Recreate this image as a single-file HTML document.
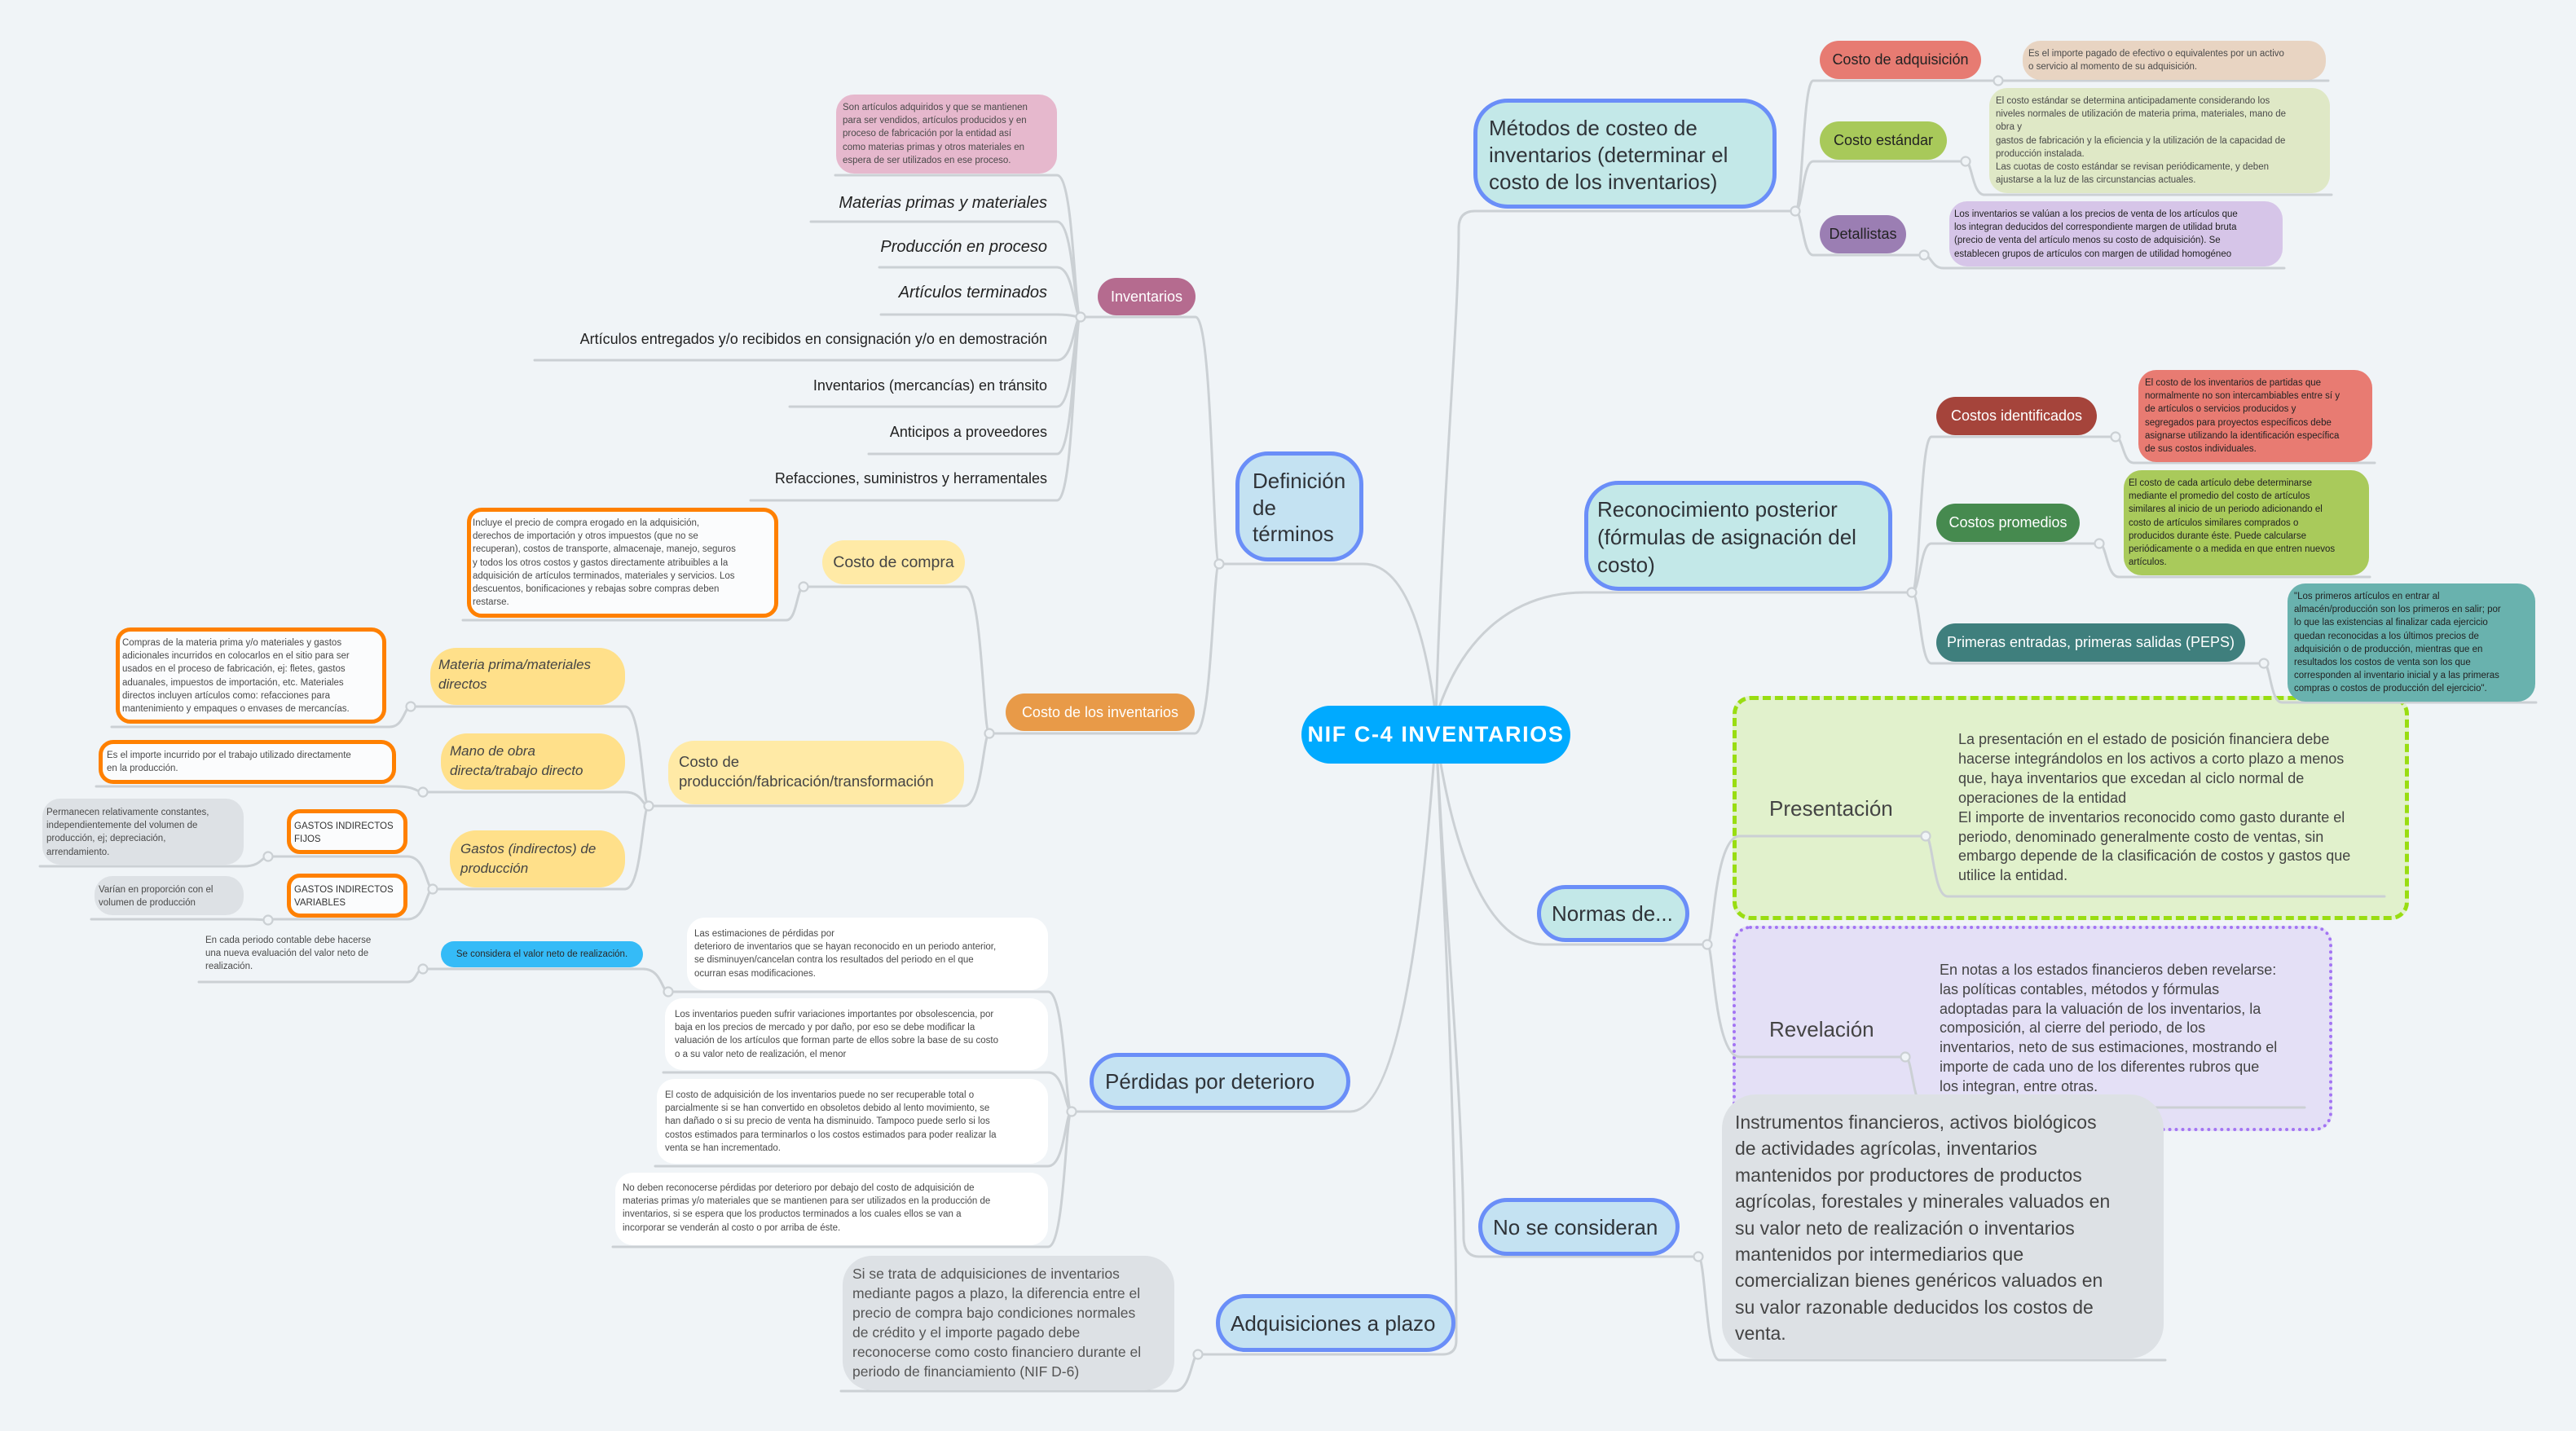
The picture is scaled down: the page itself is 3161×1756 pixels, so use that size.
<!DOCTYPE html>
<html><head><meta charset="utf-8">
<style>
*{box-sizing:border-box;margin:0;padding:0}
html,body{width:3161px;height:1756px;background:#f0f4f7;overflow:hidden}
body{position:relative;font-family:"Liberation Sans",Arial,sans-serif;color:#333}
.a{position:absolute}
.box{position:absolute}
.pill{position:absolute;display:flex;align-items:center;justify-content:center;white-space:nowrap}
.t{position:absolute;white-space:nowrap}
.s{font-size:11.5px;line-height:16.2px;color:#4a4a4a}
.main{position:absolute;border:5px solid #6a8ef8;}
.hw{font-size:26px;color:#2f3338;line-height:33px}
.lst{position:absolute;white-space:nowrap;text-align:right;right:1876px;line-height:24px;color:#222}
svg{position:absolute;left:0;top:0}
</style></head><body>

<!-- boundaries -->
<div class="box" style="left:2126px;top:854px;width:830px;height:275px;background:#e1f1cc;border:5px dashed #99dd11;border-radius:22px"></div>
<div class="box" style="left:2126px;top:1136px;width:736px;height:252px;background:#e4e0f6;border:4px dotted #a374f3;border-radius:22px"></div>

<svg width="3161" height="1756" viewBox="0 0 3161 1756" fill="none" stroke="#cbd0d4" stroke-width="3" stroke-linecap="round">
<!-- main connectors -->
<path d="M1496,692 H1673 C1730,692 1752,800 1762,880"/>
<path d="M1762,880 C1770,600 1790,400 1790,280 Q1790,259 1810,259 H2203"/>
<path d="M1762,880 C1790,790 1850,727 1944,727 H2346"/>
<path d="M1762,900 C1785,1060 1830,1159 1895,1159 H2095"/>
<path d="M1762,900 C1775,1150 1795,1350 1796,1520 Q1797,1542 1815,1542 H2084"/>
<path d="M1470,1662 H1770 Q1787,1662 1787,1645 C1787,1400 1772,1100 1762,900"/>
<path d="M1315,1364 H1657 C1720,1364 1748,1100 1762,900"/>
<!-- definicion -->
<path d="M1326,389 H1467 C1488,389 1488,692 1496,692"/>
<path d="M1214,900 H1466 C1488,900 1488,692 1496,692"/>
<path d="M1025,215 H1297 C1318,215 1318,389 1326,389"/>
<path d="M995,272 H1297 C1318,272 1318,389 1326,389"/>
<path d="M1079,328 H1297 C1318,328 1318,389 1326,389"/>
<path d="M1081,386 H1297 C1318,386 1318,389 1326,389"/>
<path d="M656,442 H1297 C1318,442 1318,389 1326,389"/>
<path d="M969,499 H1297 C1318,499 1318,389 1326,389"/>
<path d="M1066,557 H1297 C1318,557 1318,389 1326,389"/>
<path d="M921,614 H1297 C1318,614 1318,389 1326,389"/>
<path d="M986,720 H1184 C1206,720 1206,900 1214,900"/>
<path d="M796,989 H1183 C1206,989 1206,900 1214,900"/>
<path d="M568,761 H965 C978,761 978,720 986,720"/>
<path d="M504,867 H767 C788,867 788,989 796,989"/>
<path d="M519,972 H767 C788,972 788,989 796,989"/>
<path d="M531,1091 H767 C788,1091 788,989 796,989"/>
<path d="M137,892 H478 C496,892 496,867 504,867"/>
<path d="M118,965 H486 C511,965 511,972 519,972"/>
<path d="M329,1051 H500 C523,1051 523,1091 531,1091"/>
<path d="M329,1128 H500 C523,1128 523,1091 531,1091"/>
<path d="M49,1063 H299 C321,1063 321,1051 329,1051"/>
<path d="M112,1128 H299 C321,1128 321,1129 329,1129"/>
<!-- perdidas -->
<path d="M820,1217 H1286 C1307,1217 1307,1364 1315,1364"/>
<path d="M814,1316 H1286 C1307,1316 1307,1364 1315,1364"/>
<path d="M804,1431 H1286 C1307,1431 1307,1364 1315,1364"/>
<path d="M752,1530 H1286 C1307,1530 1307,1364 1315,1364"/>
<path d="M519,1189 H789 C812,1189 812,1217 820,1217"/>
<path d="M244,1205 H500 C511,1205 511,1189 519,1189"/>
<path d="M1032,1707 H1441 C1462,1707 1462,1662 1470,1662"/>
<!-- metodos -->
<path d="M2203,259 C2212,259 2212,99 2225,99 H2452"/>
<path d="M2203,259 C2212,259 2212,198 2225,198 H2412"/>
<path d="M2203,259 C2212,259 2212,313 2225,313 H2361"/>
<path d="M2452,99 H2857"/>
<path d="M2412,198 C2420,198 2420,239 2435,239 H2861"/>
<path d="M2361,313 C2370,313 2370,329 2385,329 H2803"/>
<!-- reconocimiento -->
<path d="M2346,727 C2356,727 2356,536 2370,536 H2596"/>
<path d="M2346,727 C2356,727 2356,667 2370,667 H2576"/>
<path d="M2346,727 C2356,727 2356,814 2370,814 H2778"/>
<path d="M2596,536 C2605,536 2605,568 2618,568 H2914"/>
<path d="M2576,667 C2585,667 2585,708 2600,708 H2908"/>
<path d="M2778,814 C2786,814 2786,862 2800,862 H3112"/>
<!-- normas -->
<path d="M2095,1159 C2103,1159 2103,1026 2135,1026 H2363"/>
<path d="M2095,1159 C2103,1159 2103,1297 2135,1297 H2338"/>
<path d="M2363,1026 C2372,1026 2372,1100 2390,1100 H2926"/>
<path d="M2338,1297 C2347,1297 2347,1359 2362,1359 H2828"/>
<!-- no se consideran -->
<path d="M2084,1542 C2093,1542 2093,1669 2110,1669 H2657"/>
<g fill="#f0f4f7" stroke-width="2.2">
<circle cx="1326" cy="389" r="5.5"/><circle cx="1496" cy="692" r="5.5"/><circle cx="1214" cy="900" r="5.5"/>
<circle cx="986" cy="720" r="5.5"/><circle cx="796" cy="989" r="5.5"/><circle cx="504" cy="867" r="5.5"/>
<circle cx="519" cy="972" r="5.5"/><circle cx="531" cy="1091" r="5.5"/><circle cx="329" cy="1051" r="5.5"/>
<circle cx="329" cy="1129" r="5.5"/><circle cx="1315" cy="1364" r="5.5"/><circle cx="820" cy="1217" r="5.5"/>
<circle cx="519" cy="1189" r="5.5"/><circle cx="1470" cy="1662" r="5.5"/><circle cx="2203" cy="259" r="5.5"/>
<circle cx="2452" cy="99" r="5.5"/><circle cx="2412" cy="198" r="5.5"/><circle cx="2361" cy="313" r="5.5"/>
<circle cx="2346" cy="727" r="5.5"/><circle cx="2596" cy="536" r="5.5"/><circle cx="2576" cy="667" r="5.5"/>
<circle cx="2778" cy="814" r="5.5"/><circle cx="2095" cy="1159" r="5.5"/><circle cx="2363" cy="1026" r="5.5"/>
<circle cx="2338" cy="1297" r="5.5"/><circle cx="2084" cy="1542" r="5.5"/>
</g>
</svg>

<!-- CENTER -->
<div class="pill" style="left:1597px;top:866px;width:330px;height:71px;background:#00aaff;border-radius:36px;color:#fff;font-weight:bold;font-size:27px;letter-spacing:1.6px">NIF C-4 INVENTARIOS</div>

<!-- MAIN BRANCHES -->
<div class="main" style="left:1516px;top:554px;width:157px;height:135px;background:#c4e2f2;border-radius:40px"></div>
<div class="t hw" style="left:1537px;top:574px;line-height:32.5px">Definición<br>de<br>términos</div>

<div class="main" style="left:1808px;top:121px;width:372px;height:135px;background:#c3e8e8;border-radius:42px"></div>
<div class="t hw" style="left:1827px;top:141px">Métodos de costeo de<br>inventarios (determinar el<br>costo de los inventarios)</div>

<div class="main" style="left:1944px;top:590px;width:378px;height:135px;background:#c3e8e8;border-radius:42px"></div>
<div class="t hw" style="left:1960px;top:608px;line-height:34px">Reconocimiento posterior<br>(fórmulas de asignación del<br>costo)</div>

<div class="main" style="left:1886px;top:1086px;width:187px;height:70px;background:#c3e8e8;border-radius:35px"></div>
<div class="t hw" style="left:1904px;top:1105px">Normas de...</div>

<div class="main" style="left:1814px;top:1470px;width:247px;height:71px;background:#c4e2f2;border-radius:36px"></div>
<div class="t hw" style="left:1832px;top:1490px">No se consideran</div>

<div class="main" style="left:1492px;top:1588px;width:294px;height:71px;background:#c4e2f2;border-radius:36px"></div>
<div class="t hw" style="left:1510px;top:1608px">Adquisiciones a plazo</div>

<div class="main" style="left:1337px;top:1292px;width:320px;height:70px;background:#c4e2f2;border-radius:35px"></div>
<div class="t hw" style="left:1356px;top:1311px">Pérdidas por deterioro</div>

<!-- INVENTARIOS -->
<div class="pill" style="left:1347px;top:341px;width:120px;height:46px;background:#b56b8f;border-radius:23px;color:#fff;font-size:18px">Inventarios</div>
<div class="box" style="left:1026px;top:116px;width:271px;height:97px;background:#e6b8cd;border-radius:22px"></div>
<div class="t s" style="left:1034px;top:124px">Son artículos adquiridos y que se mantienen<br>para ser vendidos, artículos producidos y en<br>proceso de fabricación por la entidad así<br>como materias primas y otros materiales en<br>espera de ser utilizados en ese proceso.</div>
<div class="lst" style="top:237px;font-size:20px;font-style:italic">Materias primas y materiales</div>
<div class="lst" style="top:291px;font-size:20px;font-style:italic">Producción en proceso</div>
<div class="lst" style="top:347px;font-size:20px;font-style:italic">Artículos terminados</div>
<div class="lst" style="top:404px;font-size:18px">Artículos entregados y/o recibidos en consignación y/o en demostración</div>
<div class="lst" style="top:461px;font-size:18px">Inventarios (mercancías) en tránsito</div>
<div class="lst" style="top:518px;font-size:18px">Anticipos a proveedores</div>
<div class="lst" style="top:575px;font-size:18px">Refacciones, suministros y herramentales</div>

<!-- COSTO DE LOS INVENTARIOS -->
<div class="pill" style="left:1234px;top:851px;width:232px;height:46px;background:#e89a48;border-radius:23px;color:#fff;font-size:18px">Costo de los inventarios</div>
<div class="pill" style="left:1009px;top:663px;width:175px;height:54px;background:#ffeaa6;border-radius:27px;color:#444;font-size:19.5px">Costo de compra</div>
<div class="box" style="left:573px;top:623px;width:382px;height:135px;background:#fbfcfd;border:5px solid #ff8000;border-radius:18px"></div>
<div class="t s" style="left:580px;top:634px">Incluye el precio de compra erogado en la adquisición,<br>derechos de importación y otros impuestos (que no se<br>recuperan), costos de transporte, almacenaje, manejo, seguros<br>y todos los otros costos y gastos directamente atribuibles a la<br>adquisición de artículos terminados, materiales y servicios. Los<br>descuentos, bonificaciones y rebajas sobre compras deben<br>restarse.</div>

<div class="box" style="left:820px;top:909px;width:363px;height:78px;background:#ffeaa6;border-radius:32px"></div>
<div class="t" style="left:833px;top:923px;font-size:18.5px;line-height:24px;color:#444">Costo de<br>producción/fabricación/transformación</div>

<div class="box" style="left:528px;top:795px;width:239px;height:70px;background:#ffe08a;border-radius:32px"></div>
<div class="t" style="left:538px;top:804px;font-size:17px;line-height:24px;font-style:italic;color:#444">Materia prima/materiales<br>directos</div>
<div class="box" style="left:142px;top:770px;width:332px;height:118px;background:#fbfcfd;border:5px solid #ff8000;border-radius:18px"></div>
<div class="t s" style="left:150px;top:781px">Compras de la materia prima y/o materiales y gastos<br>adicionales incurridos en colocarlos en el sitio para ser<br>usados en el proceso de fabricación, ej: fletes, gastos<br>aduanales, impuestos de importación, etc.  Materiales<br>directos incluyen artículos como: refacciones para<br>mantenimiento y empaques o envases de mercancías.</div>

<div class="box" style="left:541px;top:900px;width:226px;height:69px;background:#ffe08a;border-radius:32px"></div>
<div class="t" style="left:552px;top:910px;font-size:17px;line-height:24px;font-style:italic;color:#444">Mano de obra<br>directa/trabajo directo</div>
<div class="box" style="left:121px;top:908px;width:365px;height:54px;background:#fbfcfd;border:5px solid #ff8000;border-radius:18px"></div>
<div class="t s" style="left:131px;top:919px">Es el importe incurrido por el trabajo utilizado directamente<br>en la producción.</div>

<div class="box" style="left:552px;top:1019px;width:215px;height:70px;background:#ffe08a;border-radius:32px"></div>
<div class="t" style="left:565px;top:1030px;font-size:17px;line-height:24px;font-style:italic;color:#444">Gastos (indirectos) de<br>producción</div>
<div class="box" style="left:352px;top:993px;width:148px;height:55px;background:#fbfcfd;border:5px solid #ff8000;border-radius:16px"></div>
<div class="t s" style="left:361px;top:1006px;color:#333">GASTOS INDIRECTOS<br>FIJOS</div>
<div class="box" style="left:352px;top:1072px;width:148px;height:54px;background:#fbfcfd;border:5px solid #ff8000;border-radius:16px"></div>
<div class="t s" style="left:361px;top:1084px;color:#333">GASTOS INDIRECTOS<br>VARIABLES</div>
<div class="box" style="left:52px;top:980px;width:247px;height:81px;background:#dde1e5;border-radius:22px"></div>
<div class="t s" style="left:57px;top:989px">Permanecen relativamente constantes,<br>independientemente del volumen de<br>producción, ej; depreciación,<br>arrendamiento.</div>
<div class="box" style="left:116px;top:1075px;width:183px;height:48px;background:#dde1e5;border-radius:22px"></div>
<div class="t s" style="left:121px;top:1084px">Varían en proporción con el<br>volumen de producción</div>

<!-- PERDIDAS -->
<div class="box" style="left:843px;top:1126px;width:443px;height:89px;background:#fff;border-radius:22px"></div>
<div class="t s" style="left:852px;top:1138px">Las estimaciones de pérdidas por<br>deterioro de inventarios que se hayan reconocido en un periodo anterior,<br>se disminuyen/cancelan contra los resultados del periodo en el que<br>ocurran esas modificaciones.</div>
<div class="pill" style="left:541px;top:1155px;width:248px;height:32px;background:#35bbf7;border-radius:16px;font-size:11.5px;color:#2a2a2a">Se considera el valor neto de realización.</div>
<div class="t s" style="left:252px;top:1146px">En cada periodo contable debe hacerse<br>una nueva evaluación del valor neto de<br>realización.</div>
<div class="box" style="left:816px;top:1225px;width:470px;height:88px;background:#fff;border-radius:22px"></div>
<div class="t s" style="left:828px;top:1237px">Los inventarios pueden sufrir variaciones importantes por obsolescencia, por<br>baja en los precios de mercado y por daño, por eso se debe modificar  la<br>valuación de los artículos que forman parte de ellos sobre la base de su costo<br>o a su valor neto de realización, el menor</div>
<div class="box" style="left:806px;top:1324px;width:480px;height:104px;background:#fff;border-radius:22px"></div>
<div class="t s" style="left:816px;top:1336px">El costo de adquisición de los inventarios puede no ser recuperable total o<br>parcialmente si se han convertido en obsoletos debido al lento movimiento, se<br>han dañado o si su precio de venta ha disminuido. Tampoco puede serlo si los<br>costos estimados para terminarlos o los costos estimados para poder realizar la<br>venta se han incrementado.</div>
<div class="box" style="left:755px;top:1439px;width:531px;height:89px;background:#fff;border-radius:22px"></div>
<div class="t s" style="left:764px;top:1450px">No deben reconocerse pérdidas por deterioro por debajo del costo de adquisición de<br>materias primas y/o materiales que se mantienen para ser utilizados en la producción de<br>inventarios, si se espera que los productos terminados a los cuales ellos se van a<br>incorporar se venderán al costo o por arriba de éste.</div>

<!-- ADQUISICIONES -->
<div class="box" style="left:1034px;top:1541px;width:407px;height:165px;background:#dde1e5;border-radius:36px"></div>
<div class="t" style="left:1046px;top:1551px;font-size:17.5px;line-height:24px;color:#555">Si se trata de adquisiciones de inventarios<br>mediante pagos a plazo, la diferencia entre el<br>precio de compra bajo condiciones normales<br>de crédito y el importe pagado debe<br>reconocerse como costo financiero durante el<br>periodo de financiamiento (NIF D-6)</div>

<!-- METODOS -->
<div class="pill" style="left:2233px;top:50px;width:198px;height:47px;background:#e77b72;border-radius:24px;font-size:18px;color:#222">Costo de adquisición</div>
<div class="box" style="left:2482px;top:50px;width:372px;height:48px;background:#e8d4c2;border-radius:22px"></div>
<div class="t s" style="left:2489px;top:58px">Es el importe pagado de efectivo o equivalentes por un activo<br>o servicio al momento de su adquisición.</div>
<div class="pill" style="left:2233px;top:149px;width:156px;height:47px;background:#a8c95a;border-radius:24px;font-size:18px;color:#222">Costo estándar</div>
<div class="box" style="left:2441px;top:108px;width:418px;height:129px;background:#dfe8c6;border-radius:22px"></div>
<div class="t s" style="left:2449px;top:116px">El costo estándar se determina anticipadamente considerando los<br>niveles normales de utilización de materia prima, materiales, mano de<br>obra y<br>gastos de fabricación y la eficiencia y la utilización de la capacidad de<br>producción instalada.<br>Las cuotas de costo estándar se revisan periódicamente, y deben<br>ajustarse a la luz de las circunstancias actuales.</div>
<div class="pill" style="left:2233px;top:264px;width:106px;height:47px;background:#9b7eb3;border-radius:24px;font-size:18px;color:#222">Detallistas</div>
<div class="box" style="left:2392px;top:247px;width:409px;height:80px;background:#d6c5e8;border-radius:22px"></div>
<div class="t s" style="left:2398px;top:255px;color:#222">Los inventarios se valúan a los precios de venta de los artículos que<br>los integran deducidos del correspondiente margen de utilidad bruta<br>(precio de venta del artículo menos su costo de adquisición). Se<br>establecen grupos de artículos con margen de utilidad homogéneo</div>

<!-- RECONOCIMIENTO -->
<div class="pill" style="left:2376px;top:487px;width:197px;height:47px;background:#a5443b;border-radius:24px;font-size:18px;color:#fff">Costos identificados</div>
<div class="box" style="left:2624px;top:454px;width:287px;height:113px;background:#e87b72;border-radius:22px"></div>
<div class="t s" style="left:2632px;top:462px;color:#222">El costo de los inventarios de partidas que<br>normalmente no son intercambiables entre sí y<br>de artículos o servicios producidos y<br>segregados para proyectos específicos debe<br>asignarse utilizando la identificación específica<br>de sus costos individuales.</div>
<div class="pill" style="left:2376px;top:618px;width:176px;height:47px;background:#468a4f;border-radius:24px;font-size:18px;color:#fff">Costos promedios</div>
<div class="box" style="left:2606px;top:577px;width:301px;height:129px;background:#a9ca5b;border-radius:22px"></div>
<div class="t s" style="left:2612px;top:585px;color:#222">El costo de cada artículo debe determinarse<br>mediante el promedio del costo de artículos<br>similares al inicio de un periodo adicionando el<br>costo de artículos similares comprados o<br>producidos durante éste. Puede calcularse<br>periódicamente o a medida en que entren nuevos<br>artículos.</div>
<div class="pill" style="left:2376px;top:765px;width:379px;height:47px;background:#3f7f7d;border-radius:24px;font-size:18px;color:#fff">Primeras entradas, primeras salidas (PEPS)</div>
<div class="box" style="left:2807px;top:716px;width:304px;height:145px;background:#69b2ae;border-radius:22px"></div>
<div class="t s" style="left:2815px;top:724px;color:#222">"Los primeros artículos en entrar al<br>almacén/producción son los primeros en salir; por<br>lo que las existencias al finalizar cada ejercicio<br>quedan reconocidas a los últimos precios de<br>adquisición o de producción, mientras que en<br>resultados los costos de venta son los que<br>corresponden al inventario inicial y a las primeras<br>compras o costos de producción del ejercicio".</div>

<!-- NORMAS -->
<div class="t" style="left:2171px;top:976px;font-size:26px;line-height:32px;color:#444">Presentación</div>
<div class="t" style="left:2403px;top:896px;font-size:18px;line-height:23.9px;color:#444">La presentación en el estado de posición financiera debe<br>hacerse integrándolos en los activos a corto plazo a menos<br>que, haya inventarios que excedan al ciclo normal de<br>operaciones de la entidad<br>El importe de inventarios reconocido como gasto durante el<br>periodo, denominado generalmente costo de ventas, sin<br>embargo depende de la clasificación de costos y gastos que<br>utilice la entidad.</div>
<div class="t" style="left:2171px;top:1247px;font-size:26px;line-height:32px;color:#444">Revelación</div>
<div class="t" style="left:2380px;top:1179px;font-size:18px;line-height:23.8px;color:#444">En notas a los estados financieros deben revelarse:<br>las políticas contables, métodos  y fórmulas<br>adoptadas para la valuación de los inventarios, la<br>composición, al cierre del periodo, de los<br>inventarios, neto de sus estimaciones, mostrando el<br>importe de cada uno de los diferentes rubros que<br>los integran, entre otras.</div>

<!-- NO SE CONSIDERAN -->
<div class="box" style="left:2113px;top:1343px;width:542px;height:324px;background:#dde1e5;border-radius:42px"></div>
<div class="t" style="left:2129px;top:1361px;font-size:23px;line-height:32.4px;color:#444">Instrumentos financieros, activos biológicos<br>de actividades agrícolas, inventarios<br>mantenidos por productores de productos<br>agrícolas, forestales y minerales valuados en<br>su valor neto de realización o inventarios<br>mantenidos por intermediarios que<br>comercializan bienes genéricos valuados en<br>su valor razonable deducidos los costos de<br>venta.</div>

</body></html>
